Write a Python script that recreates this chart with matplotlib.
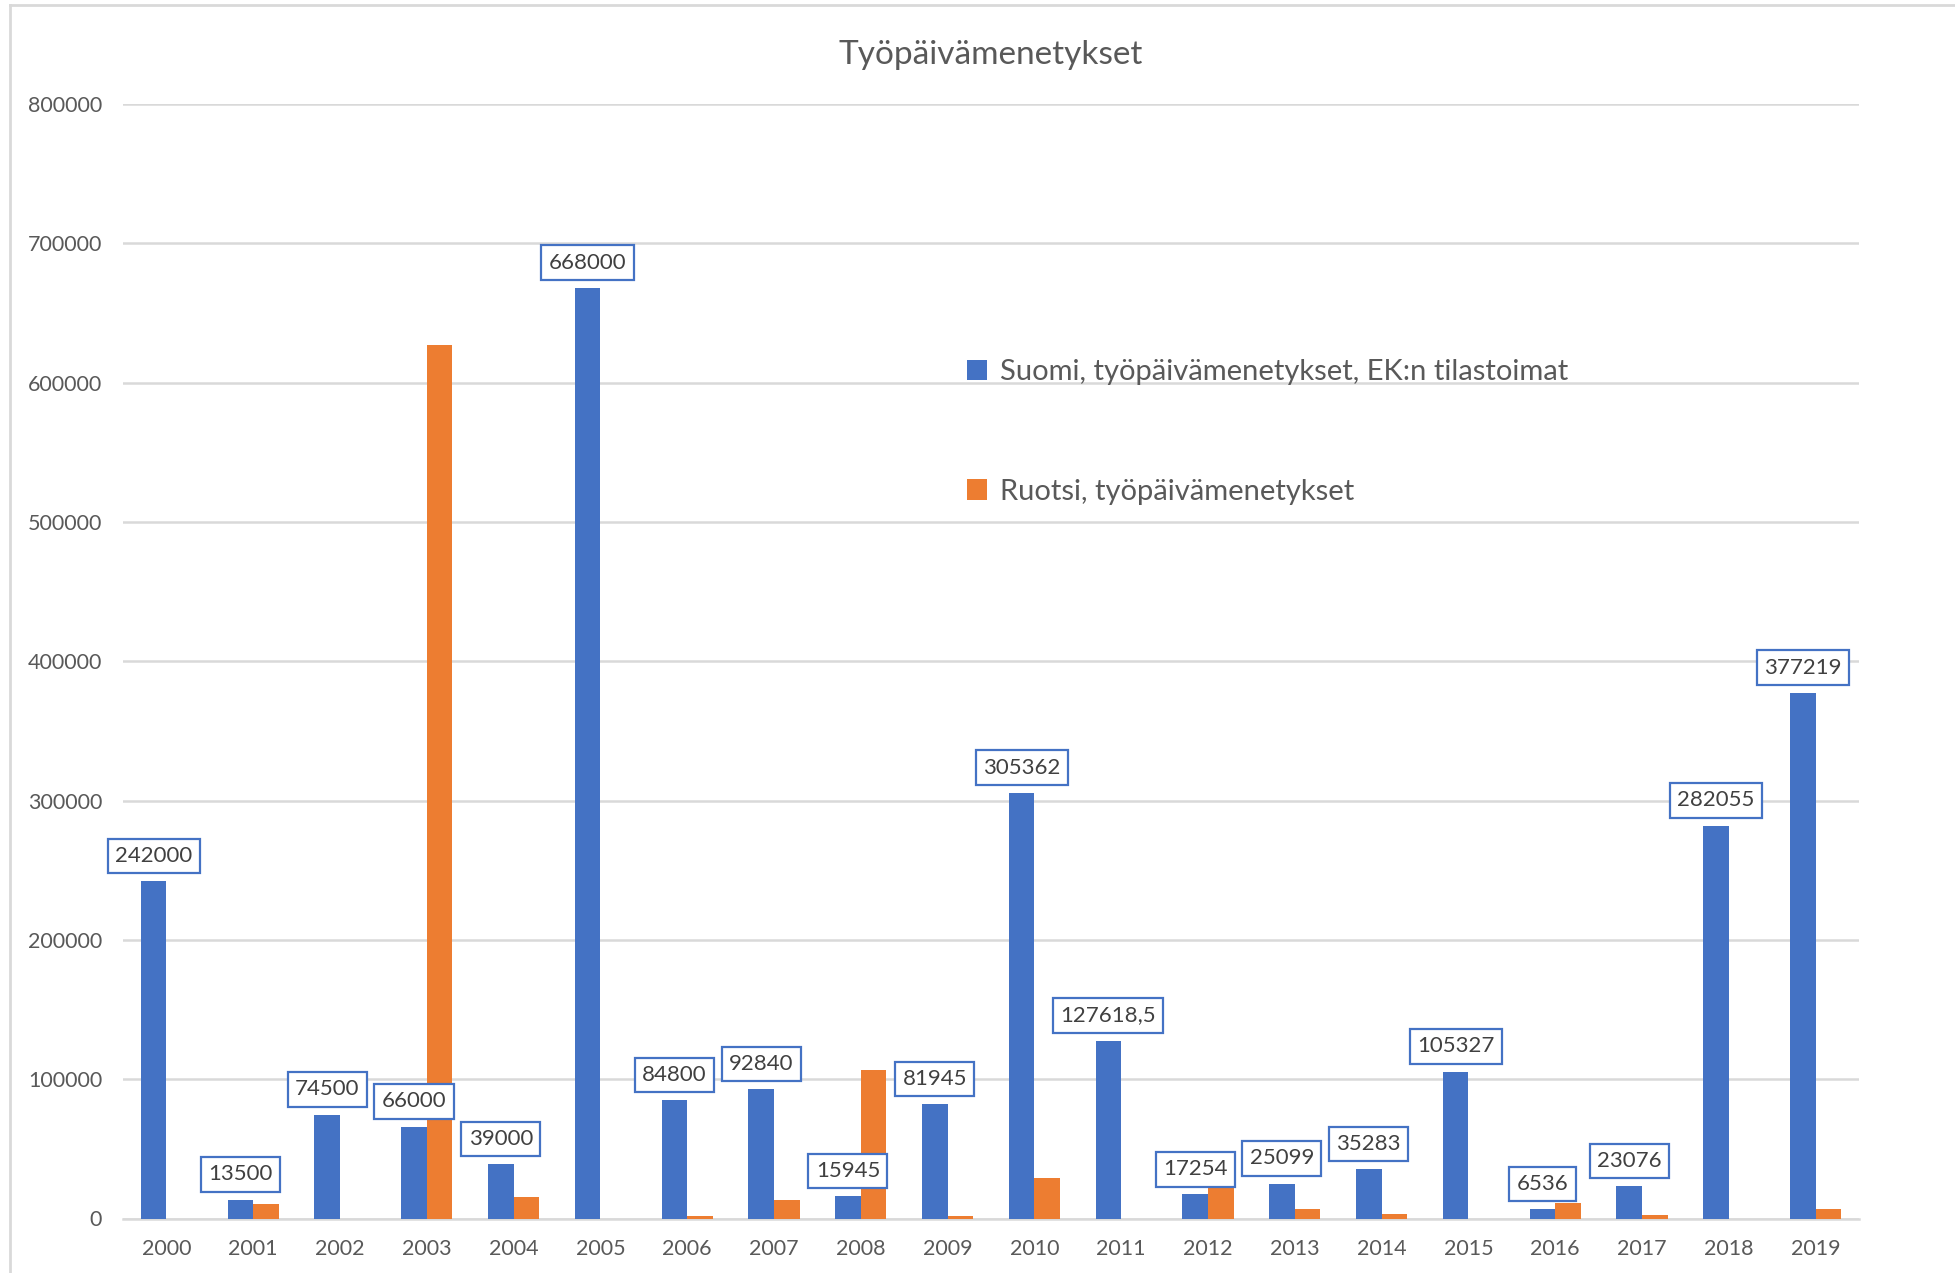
import matplotlib
matplotlib.use("Agg")
import matplotlib.pyplot as plt
import numpy as np
from matplotlib.lines import Line2D

years = ['2000', '2001', '2002', '2003', '2004', '2005', '2006', '2007', '2008', '2009',
         '2010', '2011', '2012', '2013', '2014', '2015', '2016', '2017', '2018', '2019']
suomi = [242000, 13500, 74500, 66000, 39000, 668000, 84800, 92840, 15945, 81945,
         305362, 127618.5, 17254, 25099, 35283, 105327, 6536, 23076, 282055, 377219]
ruotsi = [0, 10500, 0, 627000, 15400, 0, 1500, 13400, 106500, 1500,
          29000, 0, 24000, 7000, 3400, 0, 10800, 2400, 0, 7100]

seriesNames = ['Suomi, työpäivämenetykset, EK:n tilastoimat', 'Ruotsi, työpäivämenetykset']
title = 'Työpäivämenetykset'

blue = '#4472C4'
orange = '#ED7D31'
textGray = '#595959'
gridGray = '#D9D9D9'

plt.rcParams['font.family'] = ['Lato', 'DejaVu Sans']

fig = plt.figure(figsize=(19.56, 12.73), dpi=100)
ax = fig.add_axes([123 / 1956, 1 - 1218.5 / 1273, (1859 - 123) / 1956, (1218.5 - 104) / 1273])

x = np.arange(len(years))
w = 0.296
ax.bar(x - w / 2, suomi, width=w, color=blue, label=seriesNames[0], zorder=3)
ax.bar(x + w / 2, ruotsi, width=w, color=orange, label=seriesNames[1], zorder=3)

# data labels on the Finnish series only
for i in range(len(years)):
    v = suomi[i]
    if v == int(v):
        txt = str(int(v))
    else:
        txt = str(v).replace('.', ',')
    ax.annotate(txt, (x[i] - w / 2, v), xytext=(0, 11), textcoords='offset points',
                ha='center', va='bottom', fontsize=16, color='#404040', zorder=5,
                bbox=dict(boxstyle='square,pad=0.33', fc='white', ec=blue, lw=1.6))

ax.set_xlim(-0.5, len(years) - 0.5)
ax.set_ylim(0, 800000)
ax.set_yticks(np.arange(0, 800001, 100000))
ax.set_yticklabels([str(v) for v in range(0, 800001, 100000)])
ax.set_xticks(x)
ax.set_xticklabels(years)
ax.tick_params(axis='y', length=0, pad=15, labelsize=15.5, labelcolor=textGray)
ax.tick_params(axis='x', length=0, pad=15, labelsize=15.5, labelcolor=textGray)
ax.grid(axis='y', color=gridGray, lw=1.8, zorder=0)
for s in ['top', 'right', 'left']:
    ax.spines[s].set_visible(False)
ax.spines['bottom'].set_color(gridGray)
ax.spines['bottom'].set_linewidth(1.8)

ax.set_title(title, fontsize=24, color=textGray, pad=0, y=1.036)

leg = ax.legend(loc='upper left', bbox_to_anchor=(0.486, 0.771), frameon=False,
                fontsize=21, labelspacing=3.2, handlelength=0.7, handleheight=0.7,
                handletextpad=0.45, borderpad=0, borderaxespad=0)
for t in leg.get_texts():
    t.set_color(textGray)

# outer chart frame (left and top edges visible)
fig.add_artist(Line2D([10 / 1956, 10 / 1956], [0, 1 - 5 / 1273], color=gridGray, lw=2))
fig.add_artist(Line2D([10 / 1956, 1], [1 - 5 / 1273, 1 - 5 / 1273], color=gridGray, lw=2))

fig.savefig('out.png', dpi=100)
